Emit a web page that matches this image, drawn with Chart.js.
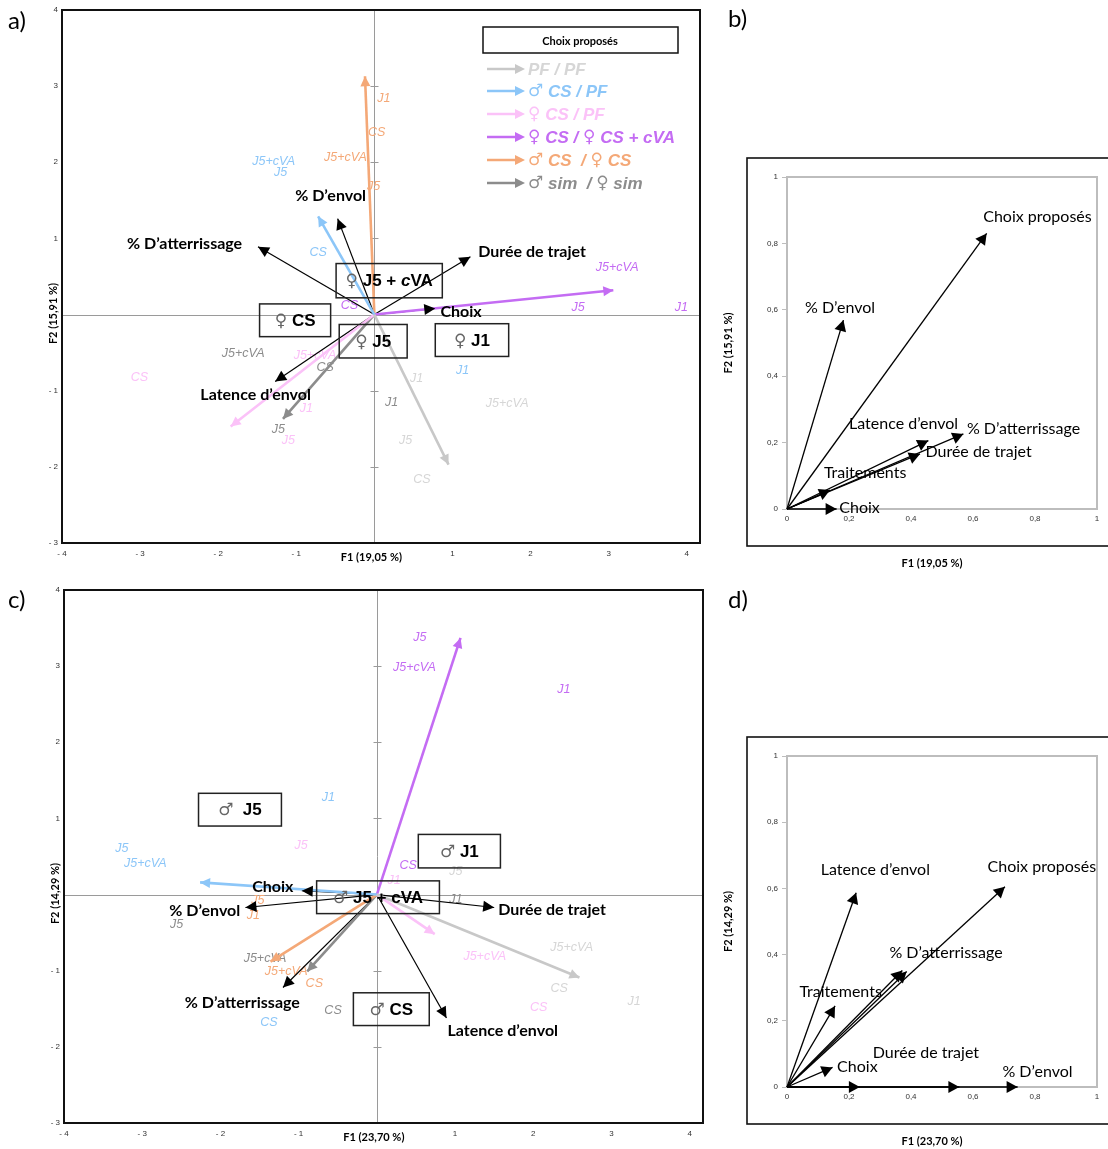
<!DOCTYPE html>
<html>
<head>
<meta charset="UTF-8">
<title>ACP - choix proposés</title>
<script src="https://cdn.jsdelivr.net/npm/chart.js@4"></script>
<style>
    body { margin: 0; background: #fff; }
    #wrap { position: relative; width: 1108px; height: 1149px; overflow: hidden; }
    canvas { position: absolute; }
</style>
</head>
<body>
<div id="wrap">
    <canvas id="chartA" width="720" height="580" style="left:0;top:0"></canvas>
    <canvas id="chartB" width="388" height="580" style="left:720px;top:0"></canvas>
    <canvas id="chartC" width="720" height="569" style="left:0;top:580px"></canvas>
    <canvas id="chartD" width="388" height="569" style="left:720px;top:580px"></canvas>
</div>
<script>
// --- données ---
const GROUPS = ['PF / PF', '♂ CS / PF', '♀ CS / PF', '♀ CS / ♀ CS + cVA', '♂ CS  / ♀ CS', '♂ sim  / ♀ sim'];
const CONDITIONS = ['J1', 'J5', 'J5+cVA', 'CS'];
const VARIABLES = ['% D’envol', '% D’atterrissage', 'Durée de trajet', 'Choix', 'Latence d’envol'];
const LEGEND_TITLE = 'Choix proposés';

const TICKS_F1 = [-4, -3, -2, -1, 0, 1, 2, 3, 4];
const TICKS_F2 = [-3, -2, -1, 0, 1, 2, 3, 4];
const TICKS_CORR = [0, 0.2, 0.4, 0.6, 0.8, 1];

// a) femelles
const A_TITLES = ['F1 (19,05 %)', 'F2 (15,91 %)'];
const A_GROUP_F1 = [0.95, -0.72, -1.84, 3.06, -0.12, -1.17];
const A_GROUP_F2 = [-1.97, 1.29, -1.47, 0.32, 3.13, -1.37];
const A_COND_F1 = [[0.54, 0.40, 1.70, 0.61], [1.13, -1.20, -1.29, -0.72], [-0.87, -1.10, -0.76, -3.01], [3.93, 2.61, 3.11, -0.32], [0.12, -0.01, -0.37, 0.03], [0.22, -1.23, -1.68, -0.63]];
const A_COND_F2 = [[-0.84, -1.66, -1.17, -2.17], [-0.74, 1.87, 2.01, 0.81], [-1.24, -1.66, -0.54, -0.83], [0.09, 0.09, 0.62, 0.12], [2.84, 1.68, 2.06, 2.39], [-1.16, -1.51, -0.51, -0.70]];
const A_VAR_F1 = [-0.47, -1.49, 1.23, 0.78, -1.27];
const A_VAR_F2 = [1.26, 0.89, 0.76, 0.08, -0.88];
const A_VAR_LABEL_F1 = [-0.56, -2.43, 2.02, 1.11, -1.52];
const A_VAR_LABEL_F2 = [1.56, 0.93, 0.83, 0.04, -1.06];
const A_BOXES = ['♀ J5 + cVA', '♀ CS', '♀ J5', '♀ J1'];
const A_BOX_F1 = [[-0.49, 0.87], [-1.47, -0.56], [-0.45, 0.42], [0.78, 1.72]];
const A_BOX_F2 = [[0.22, 0.67], [-0.29, 0.14], [-0.57, -0.13], [-0.55, -0.12]];

// b) cercle des corrélations (a)
const B_TITLES = ['F1 (19,05 %)', 'F2 (15,91 %)'];
const B_NAMES = ['Choix proposés', '% D’envol', 'Latence d’envol', '% D’atterrissage', 'Durée de trajet', 'Traitements', 'Choix'];
const B_F1 = [0.644, 0.182, 0.456, 0.569, 0.429, 0.139, 0.16];
const B_F2 = [0.830, 0.569, 0.206, 0.226, 0.166, 0.057, 0.0];
const B_LABEL_F1 = [0.808, 0.171, 0.376, 0.763, 0.618, 0.252, 0.234];
const B_LABEL_F2 = [0.880, 0.605, 0.256, 0.241, 0.172, 0.108, 0.003];

// c) mâles
const C_TITLES = ['F1 (23,70 %)', 'F2 (14,29 %)'];
const C_GROUP_F1 = [2.59, -2.26, 0.74, 1.07, -1.36, -0.89];
const C_GROUP_F2 = [-1.09, 0.16, -0.52, 3.37, -0.88, -1.01];
const C_COND_F1 = [[3.29, 1.01, 2.49, 2.33], [-0.62, -3.26, -2.96, -1.38], [0.22, -0.97, 1.38, 2.07], [2.39, 0.55, 0.48, 0.40], [-1.58, -1.52, -1.16, -0.80], [1.01, -2.56, -1.43, -0.56]];
const C_COND_F2 = [[-1.40, 0.30, -0.70, -1.24], [1.27, 0.60, 0.41, -1.68], [0.19, 0.64, -0.81, -1.48], [2.69, 3.37, 2.98, 0.38], [-0.27, -0.08, -1.01, -1.17], [-0.07, -0.39, -0.84, -1.52]];
const C_VAR_F1 = [-1.68, -1.20, 1.50, -0.96, 0.89];
const C_VAR_F2 = [-0.17, -1.22, -0.17, 0.05, -1.62];
const C_VAR_LABEL_F1 = [-2.20, -1.72, 2.24, -1.33, 1.61];
const C_VAR_LABEL_F2 = [-0.21, -1.42, -0.20, 0.10, -1.79];
const C_BOXES = ['♂  J5', '♂ J1', '♂ J5 + cVA', '♂ CS'];
const C_BOX_F1 = [[-2.28, -1.22], [0.53, 1.58], [-0.77, 0.80], [-0.30, 0.67]];
const C_BOX_F2 = [[0.90, 1.33], [0.35, 0.79], [-0.25, 0.18], [-1.72, -1.29]];

// d) cercle des corrélations (c)
const D_TITLES = ['F1 (23,70 %)', 'F2 (14,29 %)'];
const D_NAMES = ['Latence d’envol', 'Choix proposés', '% D’atterrissage', '', 'Traitements', 'Choix', '', 'Durée de trajet', '% D’envol'];
const D_F1 = [0.223, 0.703, 0.386, 0.372, 0.155, 0.147, 0.235, 0.556, 0.744];
const D_F2 = [0.587, 0.605, 0.349, 0.352, 0.245, 0.059, 0, 0, 0];
const D_LABEL_F1 = [0.285, 0.822, 0.513, null, 0.173, 0.227, null, 0.448, 0.808];
const D_LABEL_F2 = [0.655, 0.665, 0.404, null, 0.288, 0.061, null, 0.103, 0.047];

// --- styles ---
const GROUP_COLORS = ['#c8c8c8', '#8cc6f8', '#fbc2f8', '#c46cf3', '#f4a877', '#8c8c8c'];
const GROUP_TEXT_COLORS = ['#d6d6d6', '#8cc6f8', '#fbc2f8', '#c46cf3', '#f4a877', '#8c8c8c'];
const SYM_FONT = '"DejaVu Sans"';
const DECOR = {};

function rich(ctx, parts, x, y, align) {
    let w = 0;
    parts.forEach(p => { ctx.font = p[1]; w += ctx.measureText(p[0]).width; });
    let cx = align === 'center' ? x - w / 2 : (align === 'right' ? x - w : x);
    ctx.textAlign = 'left';
    ctx.textBaseline = 'middle';
    parts.forEach(p => {
        ctx.font = p[1];
        ctx.fillStyle = p[2];
        ctx.fillText(p[0], cx, y);
        cx += ctx.measureText(p[0]).width;
    });
}

// coupe un texte : symboles ♀/♂ en police fine, "c" de cVA en italique si demandé
function splitText(text, font, symFont, color, symColor, italicC) {
    const parts = [];
    for (const ch of text) {
        let f = font, c = color;
        if (ch === '♀' || ch === '♂') { f = symFont; c = symColor; }
        else if (italicC && ch === 'c') { f = 'italic ' + font; }
        const last = parts[parts.length - 1];
        if (last && last[1] === f && last[2] === c) last[0] += ch;
        else parts.push([ch, f, c]);
    }
    return parts;
}

function arrowHead(ctx, x0, y0, x1, y1, len, half, color) {
    const a = Math.atan2(y1 - y0, x1 - x0);
    ctx.save();
    ctx.translate(x1, y1);
    ctx.rotate(a);
    ctx.beginPath();
    ctx.moveTo(0, 0);
    ctx.lineTo(-len, -half);
    ctx.lineTo(-len, half);
    ctx.closePath();
    ctx.fillStyle = color;
    ctx.fill();
    ctx.restore();
}

function hline(ctx, x0, y0, x1, y1) {
    ctx.beginPath();
    ctx.moveTo(x0, y0);
    ctx.lineTo(x1, y1);
    ctx.stroke();
}

const decor = {
    id: 'decor',
    beforeDatasetsDraw(chart) {
        const o = DECOR[chart.canvas.id];
        const { ctx, chartArea: ca, scales: { x, y } } = chart;
        ctx.save();
        if (o.kind === 'scores') {
            ctx.strokeStyle = '#9a9a9a';
            ctx.lineWidth = 1;
            const x0 = Math.round(x.getPixelForValue(0)) + 0.5;
            const y0 = Math.round(y.getPixelForValue(0)) + 0.5;
            hline(ctx, x0, ca.top, x0, ca.bottom);
            hline(ctx, ca.left, y0, ca.right, y0);
            TICKS_F2.forEach(v => {
                const py = Math.round(y.getPixelForValue(v)) + 0.5;
                hline(ctx, x0 - 4, py, x0 + 4, py);
            });
            // étiquettes des conditions
            o.conds.forEach(l => {
                ctx.font = 'italic 12.5px "Liberation Sans"';
                ctx.fillStyle = l.color;
                ctx.textAlign = 'center';
                ctx.textBaseline = 'middle';
                ctx.fillText(l.text, x.getPixelForValue(l.x), y.getPixelForValue(l.y));
            });
        } else {
            ctx.strokeStyle = '#bdbdbd';
            ctx.lineWidth = 2;
            ctx.strokeRect(ca.left, ca.top, ca.width, ca.height);
        }
        ctx.restore();
    },
    afterDatasetsDraw(chart) {
        const o = DECOR[chart.canvas.id];
        const { ctx, chartArea: ca, scales: { x, y } } = chart;
        ctx.save();
        chart.data.datasets.forEach((ds, i) => {
            const pts = chart.getDatasetMeta(i).data;
            arrowHead(ctx, pts[0].x, pts[0].y, pts[1].x, pts[1].y, ds.headLen, ds.headHalf, ds.borderColor);
        });
        o.labels.forEach(l => {
            ctx.font = o.labelFont;
            ctx.fillStyle = '#000';
            ctx.textAlign = 'center';
            ctx.textBaseline = 'middle';
            ctx.fillText(l.text, x.getPixelForValue(l.x), y.getPixelForValue(l.y));
        });
        (o.boxes || []).forEach(b => {
            const px0 = x.getPixelForValue(b.x[0]), px1 = x.getPixelForValue(b.x[1]);
            const py0 = y.getPixelForValue(b.y[1]), py1 = y.getPixelForValue(b.y[0]);
            ctx.strokeStyle = '#222';
            ctx.lineWidth = 1.5;
            ctx.strokeRect(px0, py0, px1 - px0, py1 - py0);
            rich(ctx, splitText(b.text, 'bold 17px "Liberation Sans"', '17px ' + SYM_FONT, '#000', '#666', o.italicC),
                (px0 + px1) / 2, (py0 + py1) / 2 + 1, 'center');
        });
        // cadres
        if (o.kind === 'scores') {
            ctx.strokeStyle = '#111';
            ctx.lineWidth = 2;
            ctx.strokeRect(ca.left, ca.top, ca.width, ca.height);
        } else {
            ctx.strokeStyle = '#111';
            ctx.lineWidth = 1.6;
            ctx.strokeRect(ca.left - 40, ca.top - 19, 420, ca.height + 56);
        }
        // légende
        if (o.legend) {
            const lx = ca.left + 421, ly = ca.top + 17;
            ctx.strokeStyle = '#111';
            ctx.lineWidth = 1.5;
            ctx.strokeRect(lx, ly, 195, 26);
            ctx.font = 'bold 11px Lato';
            ctx.fillStyle = '#000';
            ctx.textAlign = 'center';
            ctx.textBaseline = 'middle';
            ctx.fillText(LEGEND_TITLE, lx + 97, ly + 14);
            const rowsY = [59, 81, 104, 127, 150, 173];
            GROUPS.forEach((g, i) => {
                const ry = ca.top + rowsY[i];
                ctx.strokeStyle = GROUP_COLORS[i];
                ctx.lineWidth = 2.5;
                hline(ctx, ca.left + 425, ry, ca.left + 455, ry);
                arrowHead(ctx, ca.left + 425, ry, ca.left + 463, ry, 10, 5, GROUP_COLORS[i]);
                rich(ctx, splitText(g, 'bold italic 17px "Liberation Sans"', '17px ' + SYM_FONT, GROUP_TEXT_COLORS[i], GROUP_TEXT_COLORS[i], false),
                    ca.left + 466, ry + 1, 'left');
            });
        }
        ctx.restore();
    },
    afterDraw(chart) {
        const o = DECOR[chart.canvas.id];
        const { ctx, chartArea: ca, scales: { x, y } } = chart;
        ctx.save();
        ctx.fillStyle = '#000';
        ctx.textBaseline = 'middle';
        ctx.textAlign = 'left';
        ctx.font = '24px Lato';
        ctx.fillText(o.letter[0], o.letter[1], o.letter[2]);
        ctx.font = 'bold 11px Lato';
        ctx.textAlign = 'center';
        if (o.kind === 'scores') {
            ctx.fillText(o.titles[0], x.getPixelForValue(0) - 3, ca.bottom + 14);
            ctx.translate(ca.left - 9, y.getPixelForValue(0) - 1);
        } else {
            ctx.fillText(o.titles[0], (ca.left + ca.right) / 2 - 10, ca.bottom + 54);
            ctx.translate(ca.left - 59, (ca.top + ca.bottom) / 2);
        }
        ctx.rotate(-Math.PI / 2);
        ctx.fillText(o.titles[1], 0, 0);
        ctx.restore();
    }
};

function arrowSet(f1, f2, color, width, len, half) {
    return {
        data: [{ x: 0, y: 0 }, { x: f1, y: f2 }],
        showLine: true,
        clip: false,
        borderColor: color,
        backgroundColor: color,
        borderWidth: width,
        pointRadius: 0,
        headLen: len,
        headHalf: half
    };
}

const fmtScore = v => v === 0 ? '' : (v < 0 ? '- ' + (-v) : String(v));
const fmtCorr = v => String(v).replace('.', ',');

function axis(min, max, ticks, fmt, fit, pad, gridOn) {
    return {
        type: 'linear',
        min: min,
        max: max,
        afterFit: fit,
        afterBuildTicks: s => { s.ticks = ticks.map(v => ({ value: v })); },
        grid: gridOn
            ? { display: true, drawOnChartArea: false, drawTicks: true, tickLength: 5, color: '#bdbdbd' }
            : { display: false, drawTicks: false },
        border: { display: false },
        ticks: {
            font: { size: 8, family: '"Liberation Sans"' },
            color: '#333',
            padding: pad,
            autoSkip: false,
            maxRotation: 0,
            callback: fmt
        }
    };
}

function scoresChart(id, p) {
    const datasets = [];
    GROUPS.forEach((g, i) => datasets.push(arrowSet(p.gF1[i], p.gF2[i], GROUP_COLORS[i], 2.6, 10, 5)));
    VARIABLES.forEach((v, i) => datasets.push(arrowSet(p.vF1[i], p.vF2[i], '#000', 1.2, 11, 5.5)));
    const conds = [];
    GROUPS.forEach((g, i) => CONDITIONS.forEach((c, j) =>
        conds.push({ x: p.cF1[i][j], y: p.cF2[i][j], text: c, color: GROUP_TEXT_COLORS[i] })));
    DECOR[id] = {
        kind: 'scores',
        conds: conds,
        labels: VARIABLES.map((v, i) => ({ x: p.lF1[i], y: p.lF2[i], text: v })),
        labelFont: 'bold 16px Lato',
        boxes: p.boxes.map((b, i) => ({ text: b, x: p.bF1[i], y: p.bF2[i] })),
        italicC: p.italicC,
        legend: p.legend,
        titles: p.titles,
        letter: p.letter
    };
    return new Chart(document.getElementById(id), {
        type: 'scatter',
        data: { datasets },
        options: {
            responsive: false,
            animation: false,
            events: [],
            layout: { padding: p.padding },
            plugins: { legend: { display: false }, tooltip: { enabled: false } },
            scales: {
                x: axis(-4, 4.17, TICKS_F1, fmtScore, s => { s.height = 20; }, 6, false),
                y: axis(-3, 4, TICKS_F2, fmtScore, s => { s.width = 30; }, 4, false)
            }
        },
        plugins: [decor]
    });
}

function corrChart(id, p) {
    const datasets = p.names.map((n, i) => arrowSet(p.f1[i], p.f2[i], '#000', 1.3, 11, 6));
    const labels = [];
    p.names.forEach((n, i) => { if (n) labels.push({ x: p.lF1[i], y: p.lF2[i], text: n }); });
    DECOR[id] = {
        kind: 'corr',
        labels: labels,
        labelFont: '16px Lato',
        titles: p.titles,
        letter: p.letter
    };
    return new Chart(document.getElementById(id), {
        type: 'scatter',
        data: { datasets },
        options: {
            responsive: false,
            animation: false,
            events: [],
            layout: { padding: p.padding },
            plugins: { legend: { display: false }, tooltip: { enabled: false } },
            scales: {
                x: axis(0, 1, TICKS_CORR, fmtCorr, s => { s.height = 20; }, 5, false),
                y: axis(0, 1, TICKS_CORR, fmtCorr, s => { s.width = 30; }, 4, true)
            }
        },
        plugins: [decor]
    });
}

scoresChart('chartA', {
    gF1: A_GROUP_F1, gF2: A_GROUP_F2, cF1: A_COND_F1, cF2: A_COND_F2,
    vF1: A_VAR_F1, vF2: A_VAR_F2, lF1: A_VAR_LABEL_F1, lF2: A_VAR_LABEL_F2,
    boxes: A_BOXES, bF1: A_BOX_F1, bF2: A_BOX_F2, italicC: true, legend: true,
    titles: A_TITLES, letter: ['a)', 8, 21],
    padding: { left: 32, right: 20, top: 10, bottom: 17 }
});

corrChart('chartB', {
    names: B_NAMES, f1: B_F1, f2: B_F2, lF1: B_LABEL_F1, lF2: B_LABEL_F2,
    titles: B_TITLES, letter: ['b)', 8, 19],
    padding: { left: 37, right: 11, top: 177, bottom: 51 }
});

scoresChart('chartC', {
    gF1: C_GROUP_F1, gF2: C_GROUP_F2, cF1: C_COND_F1, cF2: C_COND_F2,
    vF1: C_VAR_F1, vF2: C_VAR_F2, lF1: C_VAR_LABEL_F1, lF2: C_VAR_LABEL_F2,
    boxes: C_BOXES, bF1: C_BOX_F1, bF2: C_BOX_F2, italicC: false, legend: false,
    titles: C_TITLES, letter: ['c)', 8, 20],
    padding: { left: 34, right: 17, top: 10, bottom: 6 }
});

corrChart('chartD', {
    names: D_NAMES, f1: D_F1, f2: D_F2, lF1: D_LABEL_F1, lF2: D_LABEL_F2,
    titles: D_TITLES, letter: ['d)', 8, 20],
    padding: { left: 37, right: 11, top: 176, bottom: 42 }
});
</script>
</body>
</html>
